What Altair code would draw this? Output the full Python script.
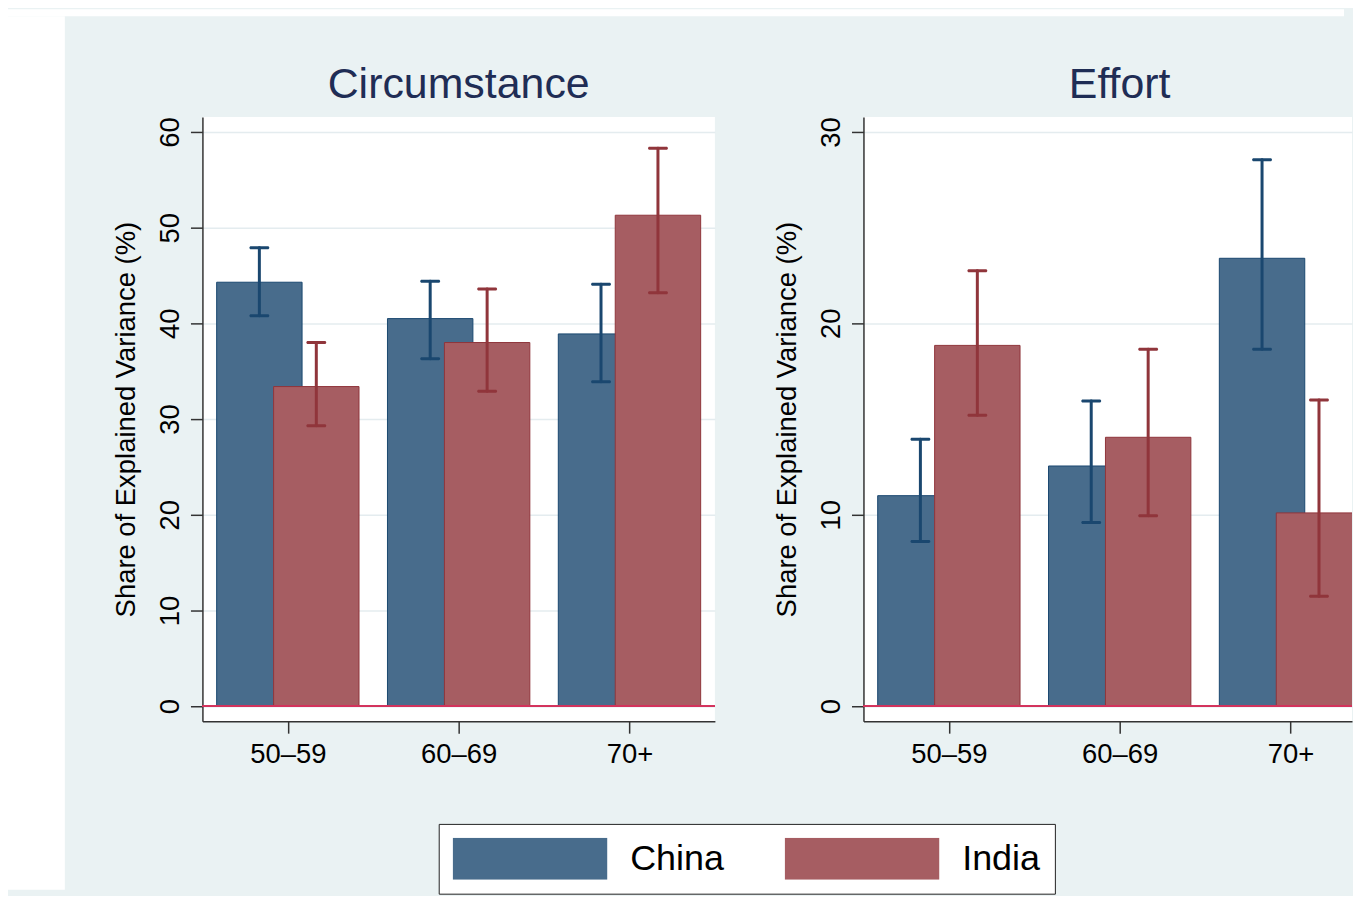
import json
import altair as alt
import pandas as pd

# ---------------- data ----------------
AGES = ["50–59", "60–69", "70+"]
COUNTRIES = ["China", "India"]
Y_TITLE = "Share of Explained Variance (%)"

CIRC_CHINA = [44.3, 40.5, 38.9]
CIRC_CHINA_LO = [40.8, 36.3, 33.9]
CIRC_CHINA_HI = [47.9, 44.4, 44.1]
CIRC_INDIA = [33.4, 38.0, 51.3]
CIRC_INDIA_LO = [29.3, 32.9, 43.2]
CIRC_INDIA_HI = [38.0, 43.6, 58.3]

EFF_CHINA = [11.0, 12.55, 23.4]
EFF_CHINA_LO = [8.6, 9.6, 18.65]
EFF_CHINA_HI = [13.95, 15.95, 28.55]
EFF_INDIA = [18.85, 14.05, 10.1]
EFF_INDIA_LO = [15.2, 9.95, 5.75]
EFF_INDIA_HI = [22.75, 18.65, 16.0]

CIRC_TICKS = [0, 10, 20, 30, 40, 50, 60]
EFF_TICKS = [0, 10, 20, 30]

# ---------------- style ----------------
FONT = "Liberation Sans"
BG = "#EAF2F3"
FILL = ["#486C8C", "#A65D62"]
LINE = ["#1A476F", "#90353B"]
TITLE_COLOR = "#1F2D55"
AXIS_COLOR = "#333333"
GRID_COLOR = "#E4ECEF"
ZERO_COLOR = "#D3325C"

PLOT_W = 514
PLOT_H = 606
RIGHT_W = 490
S1 = 48
S2 = 58
GAP = 47
ROW_H = 876
TICK_FS = 27.5

AGES_JS = json.dumps(AGES, ensure_ascii=False)
CTRY_JS = json.dumps(COUNTRIES, ensure_ascii=False)


def build(vals):
    rows = []
    for c, (v, lo, hi) in zip(COUNTRIES, vals):
        for i, age in enumerate(AGES):
            rows.append(dict(age=age, country=c, value=v[i], lo=lo[i], hi=hi[i]))
    return pd.DataFrame(rows)


circ_df = build([(CIRC_CHINA, CIRC_CHINA_LO, CIRC_CHINA_HI),
                 (CIRC_INDIA, CIRC_INDIA_LO, CIRC_INDIA_HI)])
eff_df = build([(EFF_CHINA, EFF_CHINA_LO, EFF_CHINA_HI),
                (EFF_INDIA, EFF_INDIA_LO, EFF_INDIA_HI)])

legend = alt.Legend(
    title=None, orient="none", legendX=432, legendY=817,
    direction="horizontal", columns=2,
    symbolType="M-1,-0.271H1V0.271H-1Z", symbolSize=24025, clipHeight=42,
    symbolStrokeWidth=0, symbolOpacity=1,
    labelFontSize=36, labelColor="black", labelOffset=23, labelBaseline="middle",
    columnPadding=60, padding=14, fillColor="white", strokeColor="#222222",
)


def panel(df, title, ymax, yticks, view_w, title_dx):
    pad = ymax / 38.4
    ys = alt.Scale(domain=[-pad, ymax + pad], nice=False, zero=False)
    xs = alt.Scale(domain=[0, 3 * view_w / PLOT_W], nice=False, zero=False)
    xaxis = alt.Axis(
        values=[0.5, 1.5, 2.5], labelExpr=f"{AGES_JS}[floor(datum.value)]",
        title=None, grid=False, tickSize=12, tickWidth=1.5, tickColor=AXIS_COLOR,
        domainColor=AXIS_COLOR, domainWidth=1.5, labelPadding=7, labelFontSize=TICK_FS,
        labelColor="black", labelFlush=False, labelOverlap=False,
    )
    yaxis = alt.Axis(
        values=yticks, title=Y_TITLE, grid=True, gridColor=GRID_COLOR, gridWidth=1.5,
        tickSize=12, tickWidth=1.5, tickColor=AXIS_COLOR, domainColor=AXIS_COLOR,
        domainWidth=1.5, labelAngle=270, labelAlign="center", labelBaseline="alphabetic",
        labelPadding=12, labelFontSize=TICK_FS, labelColor="black", labelOverlap=False,
        labelFlush=False, titleFontSize=27.5, titleFontWeight="normal", titleColor="black",
        titleAngle=270, titleAlign="center", titleBaseline="alphabetic",
        titleX=-68, titleY=PLOT_H / 2,
    )
    base = alt.Chart(df).transform_calculate(
        slot=f"indexof({AGES_JS}, datum.age) + (indexof({CTRY_JS}, datum.country) + 1) / 3"
    ).transform_calculate(
        left="datum.slot - 0.25", right="datum.slot + 0.25", zero="0"
    )
    bars = base.mark_bar(strokeWidth=1, clip=True, opacity=1).encode(
        x=alt.X("left:Q", scale=xs, axis=xaxis, title=None),
        x2="right:Q",
        y=alt.Y("value:Q", scale=ys, axis=yaxis, title=Y_TITLE),
        y2="zero:Q",
        color=alt.Color("country:N", scale=alt.Scale(domain=COUNTRIES, range=FILL), legend=legend),
        stroke=alt.Stroke("country:N", scale=alt.Scale(domain=COUNTRIES, range=LINE), legend=None),
    )
    zero_rule = base.mark_rule(color=ZERO_COLOR, strokeWidth=1.5).encode(
        y=alt.Y("zero:Q", scale=ys, title=Y_TITLE)
    )
    err = base.mark_rule(strokeWidth=3, strokeCap="round", clip=True).encode(
        x=alt.X("slot:Q", scale=xs, title=None),
        y=alt.Y("lo:Q", scale=ys, title=Y_TITLE),
        y2="hi:Q",
        stroke=alt.Stroke("country:N", scale=alt.Scale(domain=COUNTRIES, range=LINE), legend=None),
    )
    caps = base.transform_fold(["lo", "hi"], as_=["end", "cap"]).mark_tick(
        orient="horizontal", size=20, thickness=3, cornerRadius=1.5, opacity=1, clip=True
    ).encode(
        x=alt.X("slot:Q", scale=xs, title=None),
        y=alt.Y("cap:Q", scale=ys, title=Y_TITLE),
        fill=alt.Fill("country:N", scale=alt.Scale(domain=COUNTRIES, range=LINE), legend=None),
    )
    return alt.layer(bars, zero_rule, err, caps).properties(
        width=view_w, height=PLOT_H,
        title=alt.TitleParams(
            text=title, fontSize=43, fontWeight="normal", color=TITLE_COLOR,
            offset=-24, baseline="alphabetic", anchor="middle", frame="group", dx=title_dx,
        ),
        view=alt.ViewBackground(fill="white", stroke="transparent", strokeWidth=0),
    )


def spacer(w, h, fill="transparent"):
    return alt.Chart(pd.DataFrame({"v": [0]})).mark_rect(opacity=0).encode(
        x=alt.value(0), x2=alt.value(1), y=alt.value(0), y2=alt.value(1)
    ).properties(width=w, height=h,
                 view=alt.ViewBackground(fill=fill, stroke="transparent", strokeWidth=0))


left = panel(circ_df, "Circumstance", 60, CIRC_TICKS, PLOT_W, 0)
right = panel(eff_df, "Effort", 30, EFF_TICKS, RIGHT_W, (PLOT_W - RIGHT_W) / 2)

panels = alt.hconcat(left, right, spacing=S2)
col = alt.vconcat(spacer(1, GAP), panels, spacing=0)
row = alt.hconcat(spacer(57, ROW_H, "white"), col, spacing=S1)
chart = alt.vconcat(spacer(1340, 7, "white"), row, spacing=0).properties(
    padding=0
).configure(font=FONT, background=BG).configure_view(strokeWidth=0)

chart.save("out.html", embed_options={"renderer": "svg", "actions": False})
